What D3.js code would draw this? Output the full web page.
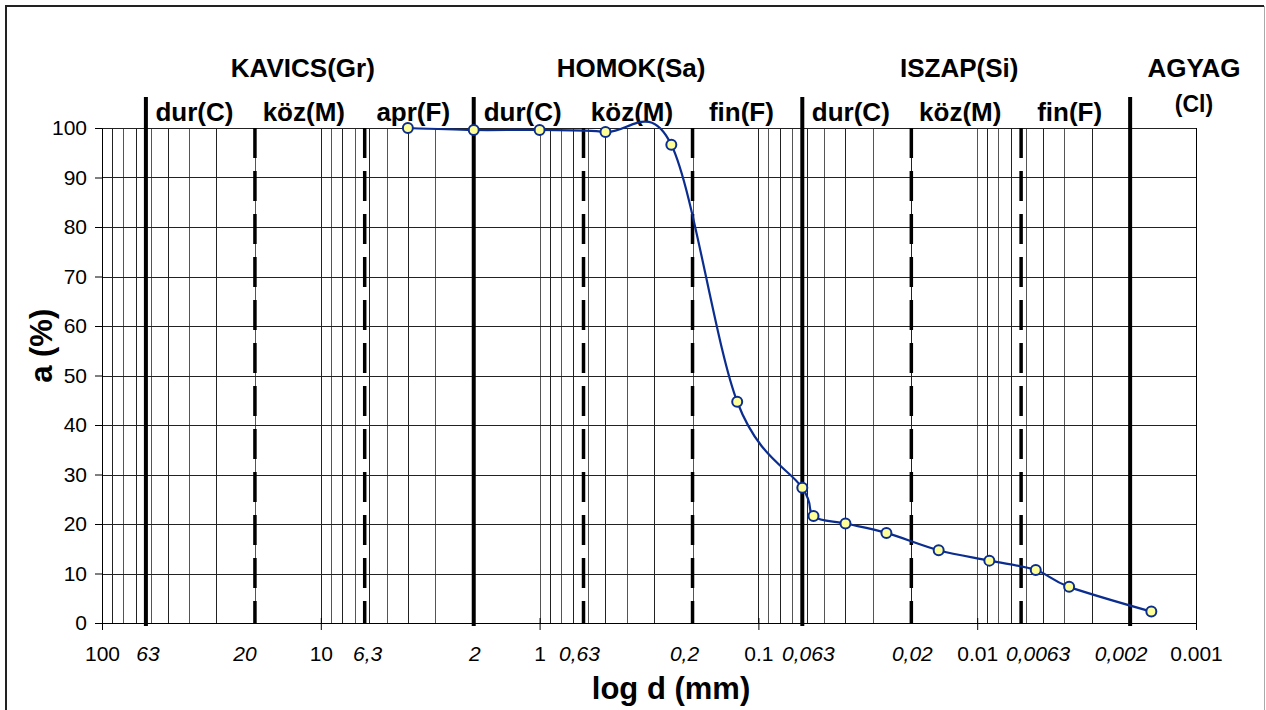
<!DOCTYPE html>
<html>
<head>
<meta charset="utf-8">
<script src="https://cdn.jsdelivr.net/npm/d3@7"></script>
<style>
  body{margin:0;background:#fff;}
  text{font-family:Arial,"Liberation Sans",sans-serif;}
</style>
</head>
<body>
<div class="chart-container"></div>
<script>
// grain size (mm) and passing percent
const diameters = [4, 2, 1, 0.5, 0.25, 0.125, 0.063, 0.056, 0.04, 0.026, 0.015, 0.0088, 0.0054, 0.0038, 0.0016];
const passing = [100, 99.6, 99.6, 99.2, 96.6, 44.7, 27.3, 21.6, 20.1, 18.2, 14.7, 12.6, 10.7, 7.3, 2.3];

// class boundaries
const boundaries = [63, 20, 6.3, 2, 0.63, 0.2, 0.063, 0.02, 0.0063, 0.002];
const boundaryLabels = ['63', '20', '6,3', '2', '0,63', '0,2', '0,063', '0,02', '0,0063', '0,002'];
const boundaryMain = [true, false, false, true, false, false, true, false, false, true];

const decadeTicks = [100, 10, 1, 0.1, 0.01, 0.001];
const decadeLabels = ['100', '10', '1', '0.1', '0.01', '0.001'];
const yTicks = [0, 10, 20, 30, 40, 50, 60, 70, 80, 90, 100];

const mainClasses = ['KAVICS(Gr)', 'HOMOK(Sa)', 'ISZAP(Si)'];
const mainRanges = [[63, 2], [2, 0.063], [0.063, 0.002]];
const subClasses = ['dur(C)', 'köz(M)', 'apr(F)', 'dur(C)', 'köz(M)', 'fin(F)', 'dur(C)', 'köz(M)', 'fin(F)'];
const clayLabel = ['AGYAG', '(Cl)'];
const clayAt = 0.001;

const svg_width = 1266;
const svg_height = 710;
const margin = {top: 128, right: 70, bottom: 87, left: 102};
const chart_width = svg_width - margin.left - margin.right;
const chart_height = svg_height - margin.top - margin.bottom;

const svg = d3.select('.chart-container').append('svg')
    .attr('width', svg_width).attr('height', svg_height);

// outer frame
svg.append('path')
    .attr('d', `M6,${svg_height + 5} V6 H1264`)
    .attr('fill', 'none').attr('stroke', '#222').attr('stroke-width', 2);
svg.append('line')
    .attr('x1', 1264.5).attr('x2', 1264.5).attr('y1', 6).attr('y2', svg_height)
    .attr('stroke', '#aaa').attr('stroke-width', 1);

const g = svg.append('g').attr('transform', `translate(${margin.left},${margin.top})`);

const xScale = d3.scaleLog().domain([100, 0.001]).range([0, chart_width]);
const yScale = d3.scaleLinear().domain([0, 100]).range([chart_height, 0]);

// minor log grid: 1..9 in every decade
const gridValues = [];
d3.range(-3, 2).forEach(e => {
    d3.range(1, 10).forEach(m => gridValues.push(m * Math.pow(10, e)));
});
gridValues.push(100);

g.append('g').attr('class', 'x-grid')
    .selectAll('line').data(gridValues).join('line')
    .attr('x1', d => Math.round(xScale(d)) + 0.5).attr('x2', d => Math.round(xScale(d)) + 0.5)
    .attr('y1', 0).attr('y2', chart_height)
    .attr('stroke', (d, i) => i % 2 ? '#555' : '#222').attr('stroke-width', 1);

g.append('g').attr('class', 'y-grid')
    .selectAll('line').data(yTicks).join('line')
    .attr('x1', 0).attr('x2', chart_width)
    .attr('y1', d => Math.round(yScale(d)) + 0.5).attr('y2', d => Math.round(yScale(d)) + 0.5)
    .attr('stroke', '#222').attr('stroke-width', 1);

// y axis
const yAxis = d3.axisLeft(yScale).tickValues(yTicks).tickSizeInner(7).tickSizeOuter(0).tickPadding(8);
const yAxisDraw = g.append('g').attr('class', 'y axis').call(yAxis);
yAxisDraw.select('.domain').attr('stroke', '#000');
yAxisDraw.selectAll('text').style('font-size', '21px').attr('fill', '#000');

// x axis, decade ticks
const xAxis = d3.axisBottom(xScale).tickValues(decadeTicks)
    .tickFormat((d, i) => decadeLabels[i]).tickSizeInner(7).tickSizeOuter(0);
const xAxisDraw = g.append('g').attr('class', 'x axis')
    .attr('transform', `translate(0,${chart_height})`).call(xAxis);
xAxisDraw.select('.domain').attr('stroke', '#000');
xAxisDraw.selectAll('text').style('font-size', '21px').attr('fill', '#000')
    .attr('y', 38).attr('dy', null);
xAxisDraw.selectAll('.tick line').attr('y1', -5);

// right frame line
g.append('line')
    .attr('x1', chart_width + 0.5).attr('x2', chart_width + 0.5)
    .attr('y1', 0).attr('y2', chart_height)
    .attr('stroke', '#000');

// class boundary lines
g.append('g').attr('class', 'boundaries')
    .selectAll('line').data(boundaries).join('line')
    .attr('x1', d => xScale(d)).attr('x2', d => xScale(d))
    .attr('y1', (d, i) => boundaryMain[i] ? -31 : 0)
    .attr('y2', (d, i) => boundaryMain[i] ? chart_height + 3 : chart_height)
    .attr('stroke', '#000')
    .attr('stroke-width', (d, i) => boundaryMain[i] ? 4 : 3.5)
    .attr('stroke-dasharray', (d, i) => boundaryMain[i] ? null : '30,13');

// boundary values under the axis, italic (nudged like the original text boxes)
const labelNudge = [2, -10, 3, 1, -4, -8, 6, 1, 17, -9];
g.append('g').attr('class', 'boundary-labels')
    .selectAll('text').data(boundaries).join('text')
    .attr('x', (d, i) => xScale(d) + labelNudge[i]).attr('y', chart_height + 38)
    .attr('text-anchor', 'middle')
    .style('font-size', '21px').style('font-style', 'italic')
    .text((d, i) => boundaryLabels[i]);

// class names on top
const geoMid = (a, b) => Math.sqrt(a * b);
g.append('g').attr('class', 'main-classes')
    .selectAll('text').data(mainClasses).join('text')
    .attr('x', (d, i) => xScale(geoMid(mainRanges[i][0], mainRanges[i][1])) - 7)
    .attr('y', -51)
    .attr('text-anchor', 'middle')
    .style('font-size', '26px').style('font-weight', 'bold')
    .text(d => d);

g.append('g').attr('class', 'sub-classes')
    .selectAll('text').data(subClasses).join('text')
    .attr('x', (d, i) => xScale(geoMid(boundaries[i], boundaries[i + 1])) - 6)
    .attr('y', -7)
    .attr('text-anchor', 'middle')
    .style('font-size', '26px').style('font-weight', 'bold')
    .text(d => d);

g.append('g').attr('class', 'clay')
    .selectAll('text').data(clayLabel).join('text')
    .attr('x', xScale(clayAt) - 2)
    .attr('y', (d, i) => i ? -16 : -51)
    .attr('text-anchor', 'middle')
    .style('font-size', (d, i) => i ? '23px' : '26px').style('font-weight', 'bold')
    .text(d => d);

// axis titles
g.append('text')
    .attr('x', chart_width / 2 + 22).attr('y', chart_height + 76)
    .attr('text-anchor', 'middle')
    .style('font-size', '31px').style('font-weight', 'bold')
    .text('log d (mm)');

g.append('text')
    .attr('transform', `translate(${52 - margin.left},${yScale(56)}) rotate(-90)`)
    .attr('text-anchor', 'middle')
    .style('font-size', '31px').style('font-weight', 'bold')
    .text('a (%)');

// grading curve
const points = diameters.map((d, i) => [xScale(d), yScale(passing[i])]);
const line = d3.line().curve(d3.curveCardinal.tension(0));

g.append('path')
    .attr('d', line(points))
    .attr('fill', 'none')
    .attr('stroke', '#0a2d8f')
    .attr('stroke-width', 2.2);

g.append('g').attr('class', 'markers')
    .selectAll('circle').data(points).join('circle')
    .attr('cx', d => d[0]).attr('cy', d => d[1])
    .attr('r', 5)
    .attr('fill', '#ffff99')
    .attr('stroke', '#0a2d8f')
    .attr('stroke-width', 2);
</script>
</body>
</html>
